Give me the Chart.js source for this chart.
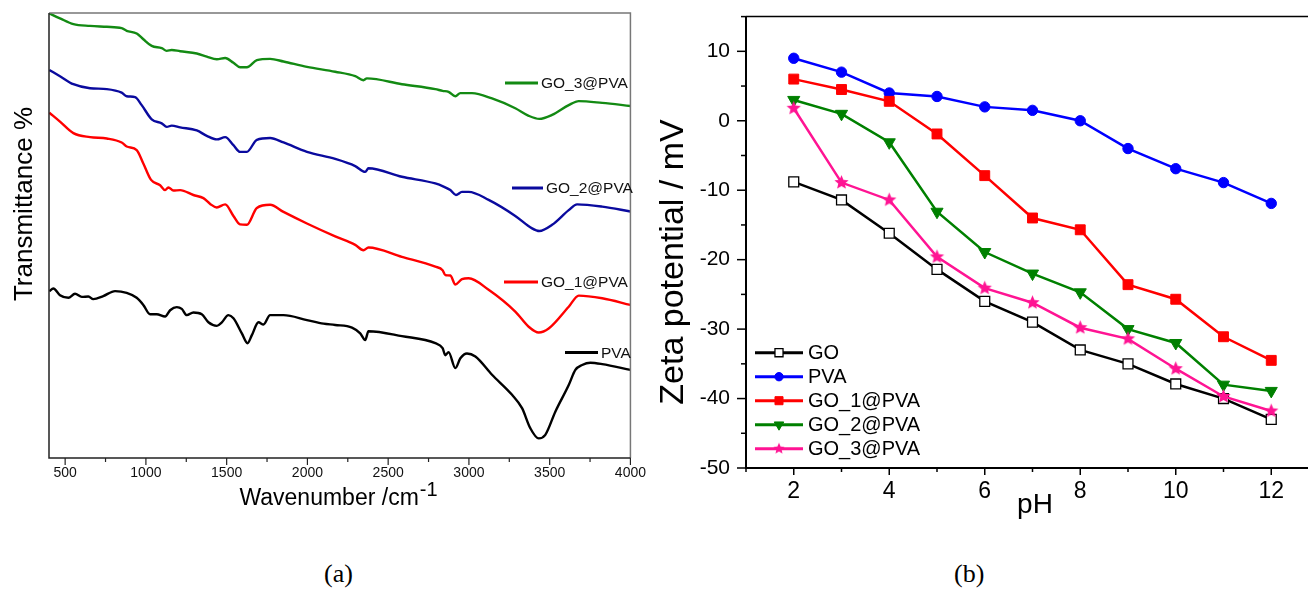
<!DOCTYPE html>
<html><head><meta charset="utf-8">
<script src="https://cdn.jsdelivr.net/npm/chart.js@4/dist/chart.umd.min.js"></script>
<style>
html,body{margin:0;padding:0;background:#fff;width:1308px;height:591px;overflow:hidden;position:relative;}
#wa{position:absolute;left:0;top:0;width:653px;height:540px;}
#wb{position:absolute;left:640px;top:-12px;width:690px;height:552px;}
.cap{position:absolute;top:559px;line-height:30px;font-family:"Liberation Serif","Times New Roman",serif;font-size:26px;color:#000;}
</style></head><body>
<div id="wa"><canvas id="ca" width="653" height="540"></canvas></div>
<div id="wb"><canvas id="cb" width="690" height="552"></canvas></div>
<div class="cap" style="left:324px">(a)</div>
<div class="cap" style="left:954px">(b)</div>
<script>
// ---------- Panel (a): FTIR spectra (wavenumber, transmittance a.u.) ----------
const pvaWn = [402,427,468,520,561,603,644,674,736,809,881,943,984,1026,1067,1119,1150,1191,1222,1253,1294,1346,1387,1439,1470,1511,1542,1594,1629,1656,1697,1728,1769,1852,1997,2100,2172,2276,2327,2358,2378,2585,2792,2837,2854,2874,2916,2947,2988,3040,3143,3267,3329,3380,3432,3473,3535,3618,3659,3701,3752,3825,4000];
const pvaT  = [37.5,38.1,36.6,36.0,36.9,36.2,36.3,35.7,36.4,37.5,37.1,36.0,34.4,32.3,32.3,31.8,33.2,33.9,33.5,32.1,32.7,32.3,30.5,29.7,30.5,32.1,31.4,28.0,25.8,27.6,30.5,30.0,32.1,32.1,31.0,30.2,29.9,29.3,28.0,26.5,28.5,27.4,25.8,24.7,23.1,23.8,20.2,22.4,23.5,22.8,18.7,14.2,11.2,6.7,4.4,5.2,10.4,16.4,19.8,20.9,21.4,21.1,19.8];

const go1Wn = [402,468,551,654,758,850,881,943,984,1032,1088,1119,1139,1170,1212,1294,1356,1398,1439,1491,1542,1583,1625,1687,1769,1852,1997,2172,2296,2347,2378,2585,2792,2837,2854,2885,2916,2957,2998,3122,3287,3370,3432,3494,3618,3680,3825,4000];
const go1T  = [77.6,75.6,73.0,72.1,71.8,70.9,70.0,69.2,66.2,62.5,61.3,60.2,60.8,60.1,60.2,59.1,58.4,57.1,56.3,57.0,54.4,52.5,52.4,56.2,56.9,55.3,52.7,49.8,47.9,46.7,47.3,45.2,43.0,42.2,41.1,41.0,39.0,40.2,40.4,37.8,32.9,29.5,28.2,29.1,34.0,36.5,35.9,34.4];

const go2Wn = [402,468,551,654,758,850,881,933,974,1036,1098,1129,1160,1212,1315,1377,1439,1491,1542,1583,1625,1687,1769,1852,1997,2172,2296,2358,2378,2585,2792,2843,2885,2920,2957,2998,3122,3287,3391,3436,3515,3618,3670,3825,4000];
const go2T  = [87.2,85.8,84.0,83.1,82.9,82.1,81.3,81.1,79.3,76.1,75.2,74.4,74.7,74.3,73.6,72.4,71.6,72.1,70.3,68.8,68.8,71.5,71.9,70.9,68.8,67.2,65.6,64.3,65.1,63.2,61.7,61.0,60.2,59.1,59.8,59.8,58.0,54.4,51.6,51.0,52.4,55.7,57.0,56.5,55.4];

const go3Wn = [402,468,551,654,758,850,881,943,984,1036,1098,1129,1160,1212,1315,1377,1439,1491,1542,1583,1625,1687,1769,1852,1997,2172,2296,2347,2368,2585,2792,2837,2874,2916,2947,3019,3143,3287,3370,3436,3515,3618,3680,3825,4000];
const go3T  = [99.9,98.8,97.5,97.1,96.9,96.6,96.0,95.4,94.1,92.6,92.1,91.5,91.7,91.4,90.9,90.2,89.6,89.9,88.8,87.8,87.8,89.4,89.7,89.1,87.9,86.8,85.8,84.9,85.3,84.0,82.9,82.5,82.3,81.3,82.0,82.0,80.8,78.6,76.9,76.2,77.1,79.3,80.2,79.8,79.1];

const ftirTicks = [500,750,1000,1250,1500,1750,2000,2250,2500,2750,3000,3250,3500,3750,4000];
const ftirNames = ['PVA','GO_1@PVA','GO_2@PVA','GO_3@PVA'];

// ---------- Panel (b): zeta potential vs pH ----------
const pH    = [2,3,4,5,6,7,8,9,10,11,12];
const zGO   = [-8.8,-11.4,-16.2,-21.4,-26,-29,-33,-35,-37.9,-40,-43];
const zPVA  = [9,7,4,3.5,2,1.5,0,-4,-6.9,-8.9,-11.9];
const zGO1  = [6,4.5,2.8,-1.9,-7.9,-14,-15.7,-23.6,-25.7,-31.1,-34.5];
const zGO2  = [3,1,-3.1,-13.1,-18.9,-22,-24.7,-30,-32,-38,-38.9];
const zGO3  = [1.8,-8.9,-11.4,-19.6,-24.1,-26.2,-29.8,-31.4,-35.7,-39.7,-41.8];
const zetaNames = ['GO','PVA','GO_1@PVA','GO_2@PVA','GO_3@PVA'];
const pHTicks = [1,2,3,4,5,6,7,8,9,10,11,12,13];
const zTicks = [-50,-45,-40,-35,-30,-25,-20,-15,-10,-5,0,5,10,15];

const SANS = '"Liberation Sans", Arial, Helvetica, sans-serif';
Chart.defaults.font.family = SANS;
Chart.defaults.color = '#000';

function pts(xs, ys){ return xs.map((x,i)=>({x:x, y:ys[i]})); }

function makeStar(R, color){
  const s = Math.ceil(R*2+2), c = document.createElement('canvas');
  c.width = s; c.height = s;
  const g = c.getContext('2d');
  g.fillStyle = color;
  g.beginPath();
  for (let k=0;k<10;k++){
    const r = (k%2===0) ? R : R*0.45;
    const ang = -Math.PI/2 + k*Math.PI/5;
    const px = s/2 + r*Math.cos(ang), py = s/2 + r*Math.sin(ang);
    if (k===0) g.moveTo(px,py); else g.lineTo(px,py);
  }
  g.closePath(); g.fill();
  return c;
}

// ---- Chart A ----
const colA = ['#000000','#ff0000','#0a0a9e','#138a13'];
const ftirData = [pts(pvaWn,pvaT), pts(go1Wn,go1T), pts(go2Wn,go2T), pts(go3Wn,go3T)];
const labelPosA = [ // [lineStart, lineEnd, y] in px
  [565,598,352.5],[504,538,282],[512,543,188],[505,538,83]
];
const pluginA = {
  id:'decorA',
  afterDraw(chart){
    const ctx = chart.ctx, a = chart.chartArea, xs = chart.scales.x;
    ctx.save();
    ctx.lineWidth = 1.5;
    ctx.strokeStyle = '#777';
    ctx.beginPath(); ctx.moveTo(a.left, a.top); ctx.lineTo(a.right, a.top); ctx.lineTo(a.right, a.bottom); ctx.stroke();
    ctx.strokeStyle = '#222';
    ctx.beginPath(); ctx.moveTo(a.left, a.top); ctx.lineTo(a.left, a.bottom); ctx.lineTo(a.right, a.bottom); ctx.stroke();
    ctx.lineWidth = 1.2;
    ftirTicks.forEach(v=>{
      const px = xs.getPixelForValue(v);
      const len = (v % 500 === 0) ? 7 : 4;
      ctx.beginPath(); ctx.moveTo(px, a.bottom); ctx.lineTo(px, a.bottom+len); ctx.stroke();
    });
    ctx.font = '15.5px ' + SANS; ctx.textBaseline = 'middle'; ctx.textAlign = 'left'; ctx.fillStyle = '#111';
    ftirNames.forEach((n,i)=>{
      const p = labelPosA[i];
      ctx.strokeStyle = colA[i]; ctx.lineWidth = 3;
      ctx.beginPath(); ctx.moveTo(p[0], p[2]); ctx.lineTo(p[1], p[2]); ctx.stroke();
      ctx.fillText(n, p[1]+3, p[2]+1);
    });
    ctx.fillStyle = '#000';
    ctx.save();
    ctx.translate(25, 204); ctx.rotate(-Math.PI/2);
    ctx.font = '26px ' + SANS; ctx.textAlign = 'center'; ctx.textBaseline = 'middle';
    ctx.fillText('Transmittance %', 0, 0);
    ctx.restore();
    ctx.textBaseline = 'alphabetic';
    const main = 'Wavenumber /cm', sup = '-1';
    ctx.font = '23px ' + SANS;
    const w1 = ctx.measureText(main).width;
    ctx.font = '20px ' + SANS;
    const w2 = ctx.measureText(sup).width;
    const x0 = 338 - (w1+w2)/2;
    ctx.font = '23px ' + SANS; ctx.textAlign = 'left';
    ctx.fillText(main, x0, 505);
    ctx.font = '20px ' + SANS;
    ctx.fillText(sup, x0 + w1 + 1, 496);
    ctx.restore();
  }
};
new Chart(document.getElementById('ca'), {
  type:'line',
  data:{ datasets: ftirNames.map((n,i)=>({
    label:n, data:ftirData[i], borderColor:colA[i], borderWidth:2.4, pointRadius:0,
    cubicInterpolationMode:'monotone', fill:false
  }))},
  options:{
    responsive:false, animation:false, devicePixelRatio:1,
    layout:{padding:{left:0, top:13, right:0, bottom:0}},
    plugins:{legend:{display:false}, tooltip:{enabled:false}},
    scales:{
      x:{ type:'linear', min:400, max:4000,
        afterBuildTicks(s){ s.ticks = ftirTicks.map(v=>({value:v})); },
        afterFit(s){ s.height = 82; },
        grid:{display:false, drawTicks:false, tickLength:0}, border:{display:false},
        ticks:{ autoSkip:false, maxRotation:0, padding:7, font:{size:14}, color:'#111',
          callback:(v)=> (v % 500 === 0 ? String(v) : '') }
      },
      y:{ type:'linear', min:0, max:100,
        afterFit(s){ s.width = 49; },
        grid:{display:false, drawTicks:false}, border:{display:false},
        ticks:{display:false}
      }
    }
  },
  plugins:[pluginA]
});

// ---- Chart B (canvas starts 12px above the page top) ----
const OY = 12;
const starPlot = makeStar(7.5, '#ff1493');
const starLeg = makeStar(6, '#ff1493');
const stylesB = [
  {c:'#000000', ps:'rect', r:7, lr:5.7, bg:'#ffffff', bw:1.3, rot:0},
  {c:'#0000ff', ps:'circle', r:5.2, lr:4.2, bg:'#0000ff', bw:1, rot:0},
  {c:'#ff0000', ps:'rect', r:7, lr:5.7, bg:'#ff0000', bw:1, rot:0},
  {c:'#008000', ps:'triangle', r:7, lr:5.5, bg:'#008000', bw:1, rot:180},
  {c:'#ff1493', ps:starPlot, lps:starLeg, r:7.5, lr:6, bg:'#ff1493', bw:1, rot:0}
];
const zetaData = [zGO, zPVA, zGO1, zGO2, zGO3];
const pluginB = {
  id:'decorB',
  afterDraw(chart){
    const ctx = chart.ctx, a = chart.chartArea, xs = chart.scales.x, ys = chart.scales.y;
    ctx.save();
    ctx.strokeStyle = '#000';
    ctx.lineWidth = 1.5;
    ctx.beginPath(); ctx.moveTo(a.left, a.top); ctx.lineTo(a.right, a.top); ctx.lineTo(a.right, a.bottom); ctx.stroke();
    ctx.lineWidth = 2;
    ctx.beginPath(); ctx.moveTo(a.left, a.top); ctx.lineTo(a.left, a.bottom); ctx.lineTo(a.right, a.bottom); ctx.stroke();
    ctx.lineWidth = 1.5;
    pHTicks.forEach(v=>{
      const px = xs.getPixelForValue(v);
      const len = (v % 2 === 0) ? 7 : 4;
      ctx.beginPath(); ctx.moveTo(px, a.bottom); ctx.lineTo(px, a.bottom+len); ctx.stroke();
    });
    zTicks.forEach(v=>{
      const py = ys.getPixelForValue(v);
      const len = (v % 10 === 0) ? 9 : 5;
      ctx.beginPath(); ctx.moveTo(a.left, py); ctx.lineTo(a.left-len, py); ctx.stroke();
    });
    // legend
    ctx.font = '20px ' + SANS; ctx.textAlign = 'left'; ctx.textBaseline = 'middle';
    zetaNames.forEach((n,i)=>{
      const st = stylesB[i], y = OY + 352.7 + i*24;
      ctx.strokeStyle = st.c; ctx.lineWidth = 3;
      ctx.beginPath(); ctx.moveTo(115, y); ctx.lineTo(163, y); ctx.stroke();
      ctx.fillStyle = st.bg; ctx.strokeStyle = st.c; ctx.lineWidth = st.bw;
      Chart.helpers.drawPoint(ctx, {pointStyle: st.lps || st.ps, radius:st.lr, rotation:st.rot, borderWidth:st.bw}, 139, y);
      ctx.fillStyle = '#000';
      ctx.fillText(n, 168, y+1);
    });
    // titles
    ctx.fillStyle = '#000';
    ctx.save();
    ctx.translate(34, OY + 262); ctx.rotate(-Math.PI/2);
    ctx.font = '34px ' + SANS; ctx.textAlign = 'center'; ctx.textBaseline = 'middle';
    ctx.fillText('Zeta potential / mV', 0, 0);
    ctx.restore();
    ctx.font = '28px ' + SANS; ctx.textAlign = 'center'; ctx.textBaseline = 'alphabetic';
    ctx.fillText('pH', 395, OY + 513);
    ctx.restore();
  }
};
new Chart(document.getElementById('cb'), {
  type:'line',
  data:{ datasets: zetaNames.map((n,i)=>({
    label:n, data:pts(pH, zetaData[i]), borderColor:stylesB[i].c, borderWidth:2.5,
    pointStyle:stylesB[i].ps, pointRadius:stylesB[i].r, pointRotation:stylesB[i].rot,
    pointBackgroundColor:stylesB[i].bg, pointBorderColor:stylesB[i].c, pointBorderWidth:stylesB[i].bw,
    tension:0, fill:false, order: 5-i
  }))},
  options:{
    responsive:false, animation:false, devicePixelRatio:1,
    layout:{padding:{left:0, top:0, right:11, bottom:0}},
    plugins:{legend:{display:false}, tooltip:{enabled:false}},
    scales:{
      x:{ type:'linear', min:1, max:13,
        afterBuildTicks(s){ s.ticks = pHTicks.map(v=>({value:v})); },
        afterFit(s){ s.height = 72; },
        grid:{display:false, drawTicks:false, tickLength:0}, border:{display:false},
        ticks:{ autoSkip:false, maxRotation:0, padding:10, font:{size:23}, color:'#000',
          callback:(v)=> (v % 2 === 0 ? String(v) : '') }
      },
      y:{ type:'linear', min:-50, max:15,
        afterBuildTicks(s){ s.ticks = zTicks.map(v=>({value:v})); },
        afterFit(s){ s.width = 106; },
        grid:{display:false, drawTicks:false, tickLength:0}, border:{display:false},
        ticks:{ autoSkip:false, padding:16, font:{size:21}, color:'#000',
          callback:(v)=> (v % 10 === 0 ? String(v) : '') }
      }
    }
  },
  plugins:[pluginB]
});
</script>
</body></html>
